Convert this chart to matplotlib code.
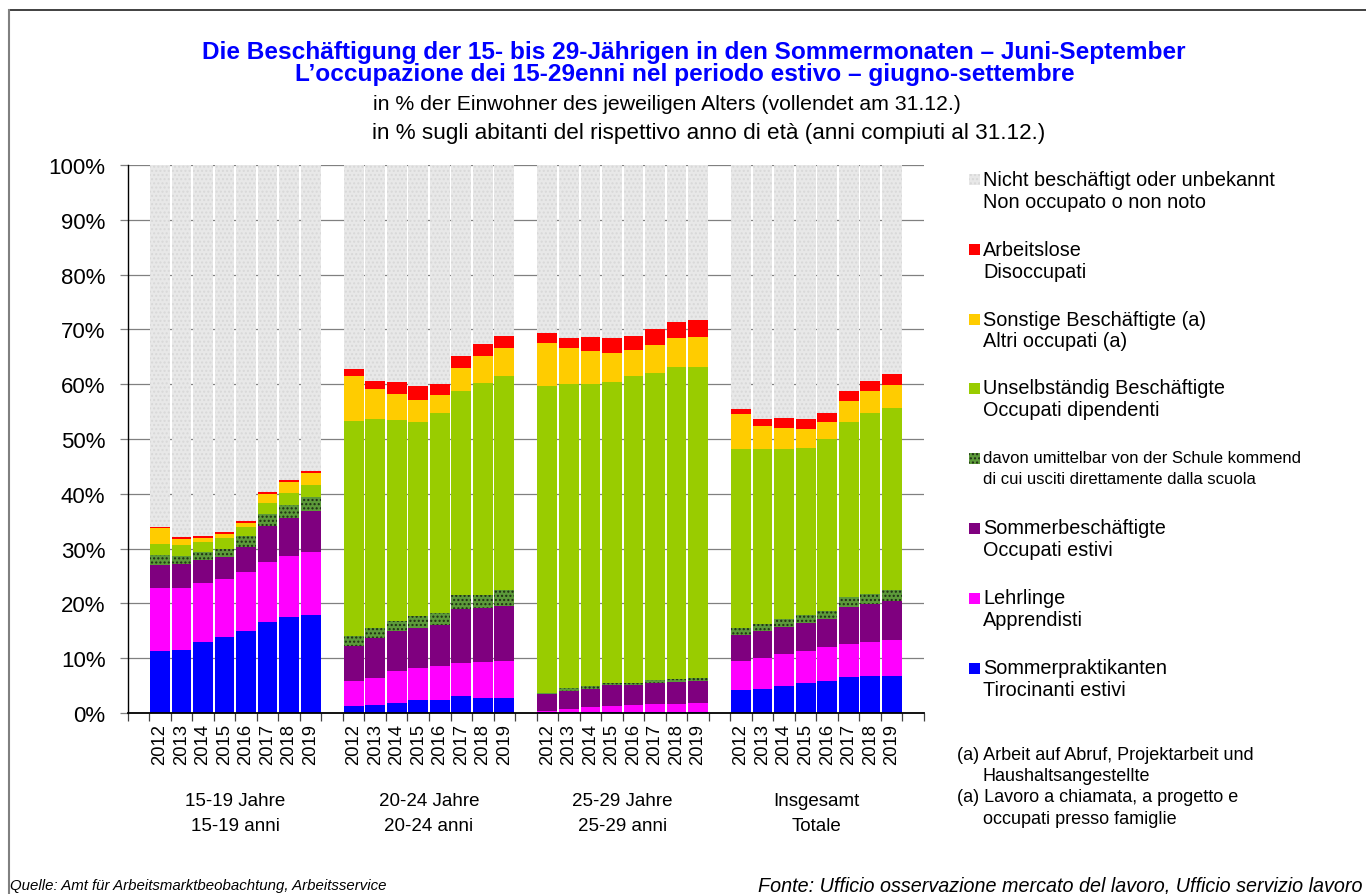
import matplotlib
matplotlib.use('Agg')
import matplotlib.pyplot as plt
from matplotlib.patches import Rectangle
from matplotlib.lines import Line2D
from matplotlib import font_manager

plt.rcParams['font.family'] = ['Liberation Sans', 'DejaVu Sans']
plt.rcParams['hatch.linewidth'] = 1.0

# ---------------- data (percent) ----------------
years = ['2012', '2013', '2014', '2015', '2016', '2017', '2018', '2019']
group_de = ['15-19 Jahre', '20-24 Jahre', '25-29 Jahre', 'Insgesamt']
group_it = ['15-19 anni', '20-24 anni', '25-29 anni', 'Totale']

# each list: 15-19 | 20-24 | 25-29 | total  (8 years each)
praktikanten = [11.3, 11.5, 13.0, 13.9, 15.0, 16.6, 17.5, 17.9,
                1.3, 1.5, 1.8, 2.3, 2.3, 3.1, 2.7, 2.7,
                0.1, 0.1, 0.1, 0.2, 0.2, 0.2, 0.2, 0.2,
                4.2, 4.4, 4.9, 5.5, 5.8, 6.6, 6.8, 6.8]
lehrlinge = [11.5, 11.3, 10.7, 10.6, 10.7, 11.0, 11.1, 11.5,
             4.5, 4.9, 5.9, 5.9, 6.3, 6.0, 6.6, 6.8,
             0.3, 0.6, 1.0, 1.1, 1.2, 1.4, 1.4, 1.6,
             5.3, 5.6, 5.9, 5.8, 6.2, 6.0, 6.2, 6.5]
sommerbesch = [4.2, 4.4, 4.2, 4.0, 4.6, 6.5, 7.0, 7.5,
               6.4, 7.3, 7.3, 7.3, 7.5, 9.9, 9.8, 10.0,
               3.0, 3.3, 3.3, 3.8, 3.7, 3.9, 4.0, 4.0,
               4.7, 5.0, 4.9, 5.1, 5.2, 6.7, 6.9, 7.1]
schule = [1.8, 1.4, 1.5, 1.4, 2.0, 2.2, 2.4, 2.5,
          1.8, 1.8, 1.8, 2.2, 2.1, 2.5, 2.5, 2.9,
          0.3, 0.6, 0.5, 0.4, 0.4, 0.5, 0.6, 0.6,
          1.3, 1.2, 1.5, 1.5, 1.4, 1.9, 1.8, 2.0]
unselbst = [2.0, 2.1, 1.8, 2.0, 1.6, 2.0, 2.1, 2.2,
            39.3, 38.1, 36.7, 35.4, 36.5, 37.3, 38.6, 39.1,
            55.9, 55.4, 55.1, 54.9, 56.0, 56.0, 56.9, 56.7,
            32.7, 32.0, 31.0, 30.5, 31.4, 31.9, 33.0, 33.2]
sonstige = [3.0, 1.1, 0.7, 0.8, 0.7, 1.6, 2.0, 2.2,
            8.2, 5.5, 4.7, 4.0, 3.3, 4.2, 4.9, 5.1,
            8.0, 6.6, 6.0, 5.3, 4.7, 5.2, 5.3, 5.5,
            6.4, 4.2, 3.8, 3.4, 3.1, 3.8, 4.1, 4.3]
arbeitslose = [0.2, 0.3, 0.4, 0.3, 0.4, 0.4, 0.4, 0.4,
               1.3, 1.5, 2.2, 2.5, 2.0, 2.2, 2.2, 2.2,
               1.8, 1.8, 2.6, 2.7, 2.6, 2.9, 2.9, 3.1,
               0.9, 1.2, 1.8, 1.8, 1.6, 1.9, 1.8, 2.0]
nicht_besch = [66.0, 67.9, 67.7, 67.0, 65.0, 59.7, 57.5, 55.8,
               37.2, 39.4, 39.6, 40.4, 40.0, 34.8, 32.7, 31.2,
               30.6, 31.6, 31.4, 31.6, 31.2, 29.9, 28.7, 28.3,
               44.5, 46.4, 46.2, 46.4, 45.3, 41.2, 39.4, 38.1]

labels_de = ['Sommerpraktikanten', 'Lehrlinge', 'Sommerbeschäftigte',
             'davon umittelbar von der Schule kommend', 'Unselbständig Beschäftigte',
             'Sonstige Beschäftigte (a)', 'Arbeitslose', 'Nicht beschäftigt oder unbekannt']
labels_it = ['Tirocinanti estivi', 'Apprendisti', 'Occupati estivi',
             'di cui usciti direttamente dalla scuola', 'Occupati dipendenti',
             'Altri occupati (a)', 'Disoccupati', 'Non occupato o non noto']

# ---------------- styles ----------------
colors = ['#0000ff', '#ff00ff', '#7f007f', '#5c9a3a', '#99cc00', '#ffcc00', '#ff0000', '#e8e8e8']
hatches = [None, None, None, '....', None, None, None, '....']
hatch_cols = [None, None, None, '#1e2e14', None, None, None, '#d8d8d8']

avail = {f.name for f in font_manager.fontManager.ttflist}
if 'Liberation Sans Narrow' in avail:
    narrow_family = ['Liberation Sans Narrow', 'Liberation Sans']
    grp_fs, src_fs = 15, 12.7
else:
    narrow_family = ['Liberation Sans', 'DejaVu Sans']
    grp_fs, src_fs = 13.5, 10.8

W, H = 1366, 895
fig = plt.figure(figsize=(W / 100, H / 100), dpi=100)

def fx(px):
    return px / W

def fy(py):
    return 1 - py / H

ax_left, ax_right, ax_top, ax_bot = 127.7, 924.0, 166.0, 714.0
ax = fig.add_axes([fx(ax_left), fy(ax_bot), fx(ax_right - ax_left), (ax_bot - ax_top) / H])

group_starts = [1, 10, 19, 28]
xpos = [g + i + 0.5 for g in group_starts for i in range(len(years))]

series = [praktikanten, lehrlinge, sommerbesch, schule, unselbst, sonstige, arbeitslose, nicht_besch]
bottom = [0.0] * len(xpos)
bar_w = 0.92
for vals, col, hat, hcol in zip(series, colors, hatches, hatch_cols):
    if hat:
        ax.bar(xpos, vals, bottom=bottom, width=bar_w, color=col, hatch=hat,
               edgecolor=hcol, linewidth=0, zorder=2)
    else:
        ax.bar(xpos, vals, bottom=bottom, width=bar_w, color=col, linewidth=0, zorder=2)
    bottom = [b + v for b, v in zip(bottom, vals)]

ax.set_xlim(0, 37)
ax.set_ylim(0, 100)
ax.set_yticks(range(0, 101, 10))
ax.set_yticklabels([f'{v}%' for v in range(0, 101, 10)], fontsize=16)
ax.yaxis.grid(True, color='#808080', linewidth=0.9, zorder=0)
ax.set_axisbelow(True)
ax.tick_params(axis='y', length=6, color='#808080', width=0.9, pad=10)

ax.set_xticks(range(0, 38))
ax.set_xticklabels([])
ax.set_xticks(xpos, minor=True)
ax.set_xticklabels(years * 4, minor=True, rotation=90, fontsize=13.3)
ax.tick_params(axis='x', which='major', length=6, color='#404040', width=0.9)
ax.tick_params(axis='x', which='minor', length=0, pad=7)

for s in ['top', 'right']:
    ax.spines[s].set_visible(False)
ax.spines['left'].set_linewidth(1.0)
ax.spines['bottom'].set_linewidth(1.3)

# group labels
for g, de, it in zip(group_starts, group_de, group_it):
    cx = ax_left + (g + 4) * (ax_right - ax_left) / 37
    fig.text(fx(cx), fy(802), de, ha='center', va='center', fontsize=grp_fs, family=narrow_family)
    fig.text(fx(cx), fy(827), it, ha='center', va='center', fontsize=grp_fs, family=narrow_family)

# titles
fig.text(fx(694), fy(52), 'Die Beschäftigung der 15- bis 29-Jährigen in den Sommermonaten – Juni-September',
         ha='center', va='center', fontsize=17.6, fontweight='bold', color='#0000ff')
fig.text(fx(685), fy(75), 'L’occupazione dei 15-29enni nel periodo estivo – giugno-settembre',
         ha='center', va='center', fontsize=17.6, fontweight='bold', color='#0000ff')
fig.text(fx(667), fy(104), 'in % der Einwohner des jeweiligen Alters (vollendet am 31.12.)',
         ha='center', va='center', fontsize=15.3)
fig.text(fx(709), fy(134), 'in % sugli abitanti del rispettivo anno di età (anni compiuti al 31.12.)',
         ha='center', va='center', fontsize=16.2)

# legend (top to bottom)
leg_y = [180, 250, 320, 389, 459, 529, 599, 669]
order = list(range(len(series)))[::-1]
for yy, idx in zip(leg_y, order):
    small = idx == 3
    fig.patches.append(Rectangle((fx(969), fy(yy + 5.5)), 11 / W, 11 / H, transform=fig.transFigure,
                                 facecolor=colors[idx], hatch=hatches[idx],
                                 edgecolor=hatch_cols[idx] if hatches[idx] else 'none', linewidth=0))
    fs = 12 if small else 14.3
    dy = 20 if small else 22
    fig.text(fx(983), fy(yy), labels_de[idx], ha='left', va='center', fontsize=fs)
    fig.text(fx(983), fy(yy + dy), labels_it[idx], ha='left', va='center', fontsize=fs)

# footnote
fig.text(fx(957), fy(756), '(a) Arbeit auf Abruf, Projektarbeit und', ha='left', va='center', fontsize=13)
fig.text(fx(983), fy(777), 'Haushaltsangestellte', ha='left', va='center', fontsize=13)
fig.text(fx(957), fy(798), '(a) Lavoro a chiamata, a progetto e', ha='left', va='center', fontsize=13)
fig.text(fx(983), fy(820), 'occupati presso famiglie', ha='left', va='center', fontsize=13)

# sources
fig.text(fx(10), fy(886), 'Quelle: Amt für Arbeitsmarktbeobachtung, Arbeitsservice',
         ha='left', va='center', fontsize=src_fs, style='italic', family=narrow_family)
fig.text(fx(1362), fy(886), 'Fonte: Ufficio osservazione mercato del lavoro, Ufficio servizio lavoro',
         ha='right', va='center', fontsize=14.2, style='italic')

# frame
fig.add_artist(Line2D([fx(9), 1], [fy(11), fy(11)], transform=fig.transFigure, color='#202020', linewidth=1.2))
fig.add_artist(Line2D([fx(9), fx(9)], [fy(11), 0], transform=fig.transFigure, color='#808080', linewidth=1.5))

fig.savefig('out.png', dpi=100)
